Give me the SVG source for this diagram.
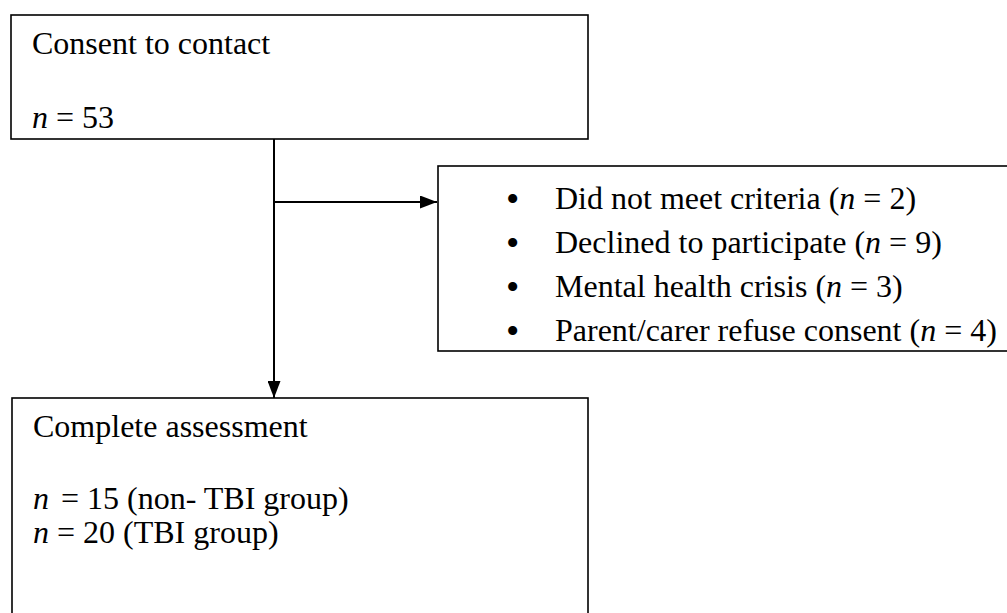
<svg xmlns="http://www.w3.org/2000/svg" width="1007" height="613" viewBox="0 0 1007 613">
<style>
.box{fill:#fff;stroke:#000;stroke-width:1.6}
.t{font-family:"Liberation Serif","Times New Roman",serif;font-size:32px;fill:#000}
.b{font-size:38px}
.i{font-style:italic}
.conn{fill:none;stroke:#000;stroke-width:2}
</style>
<defs>
<marker id="arr" markerUnits="userSpaceOnUse" markerWidth="17" markerHeight="13" refX="17" refY="6.5" orient="auto">
<path d="M0,0 L17,6.5 L0,13 Z" fill="#000"/>
</marker>
<clipPath id="rclip"><rect x="438" y="166" width="569" height="185"/></clipPath>
</defs>
<rect width="1007" height="613" fill="#fff"/>
<g id="connectors">
<line class="conn" x1="274" y1="139" x2="274" y2="398" marker-end="url(#arr)"/>
<line class="conn" x1="274" y1="202" x2="437" y2="202" marker-end="url(#arr)"/>
</g>
<g id="consent">
<rect class="box" x="11" y="15" width="577" height="124"/>
<text class="t" x="32" y="54">Consent to contact</text>
<text class="t" x="32" y="128"><tspan class="i">n</tspan> = 53</text>
</g>
<g id="excluded">
<rect class="box" x="438" y="166" width="600" height="185"/>
<g clip-path="url(#rclip)">
<text class="t" x="506" y="209"><tspan class="b" dy="3">•</tspan><tspan x="555" dy="-3">Did not meet criteria (</tspan><tspan class="i">n</tspan> = 2)</text>
<text class="t" x="506" y="253"><tspan class="b" dy="3">•</tspan><tspan x="555" dy="-3">Declined to participate (</tspan><tspan class="i">n</tspan> = 9)</text>
<text class="t" x="506" y="297"><tspan class="b" dy="3">•</tspan><tspan x="555" dy="-3">Mental health crisis (</tspan><tspan class="i">n</tspan> = 3)</text>
<text class="t" x="506" y="341"><tspan class="b" dy="3">•</tspan><tspan x="555" dy="-3">Parent/carer refuse consent (</tspan><tspan class="i">n</tspan> = 4)</text>
</g>
</g>
<g id="assessment">
<rect class="box" x="12" y="398" width="576" height="240"/>
<text class="t" x="33" y="437">Complete assessment</text>
<text class="t" x="33" y="509"><tspan class="i">n</tspan><tspan x="61">= 15 (non- TBI group)</tspan></text>
<text class="t" x="33" y="543"><tspan class="i">n</tspan> = 20 (TBI group)</text>
</g>
</svg>
